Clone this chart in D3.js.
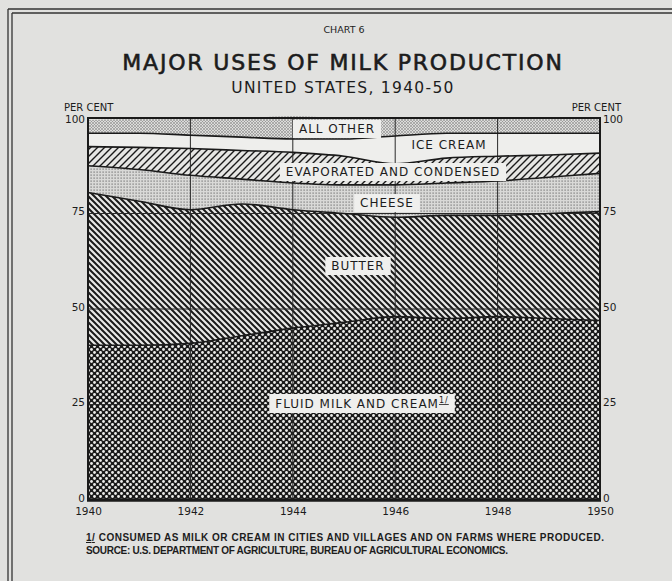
<!DOCTYPE html>
<html lang="en">
<head>
<meta charset="UTF-8">
<script src="https://d3js.org/d3.v7.min.js"></script>
<title>milk uses</title>
<style>
  body { margin: 0; background: #e1e1df; }
  text { font-family: "DejaVu Sans", sans-serif; fill: #1c1c1c; }
</style>
</head>
<body>
<script>
  // per cent of total milk production, by use
  let years = [1940, 1941, 1942, 1943, 1944, 1945, 1946, 1947, 1948, 1949, 1950]
  let fluid = [40.5, 40.5, 41, 43, 45, 46.5, 48, 47.5, 48, 47.5, 47]
  let butter = [40, 37.7, 35, 34.5, 31, 28.5, 26, 27, 26.5, 27.5, 28.5]
  let cheese = [7, 8.3, 9, 6.5, 7, 7.5, 8.5, 8.5, 9, 9.5, 10]
  let evaporated = [5, 5.8, 7, 7.5, 8, 7.5, 5.5, 6.5, 6.5, 5.8, 5.3]
  let iceCream = [3.5, 3.7, 3.5, 3.5, 3.5, 4.5, 7.3, 6.5, 6, 5.7, 5.2]
  let allOther = [3.5, 3.8, 4.5, 5, 6, 5.5, 4.7, 4, 4, 4, 3.9]
  let yTicks = [0, 25, 50, 75, 100]
  let xTicks = [1940, 1942, 1944, 1946, 1948, 1950]

  let keys = ['fluid', 'butter', 'cheese', 'evaporated', 'iceCream', 'allOther']
  let series = { fluid, butter, cheese, evaporated, iceCream, allOther }
  let rows = years.map((y, i) => {
    let r = { year: y }
    keys.forEach(k => { r[k] = series[k][i] })
    return r
  })

  let width = 672
  let height = 581
  let margin = { left: 88, right: 72, top: 118, bottom: 81 }

  let svg = d3.select('body').append('svg')
    .attr('width', width)
    .attr('height', height)

  svg.append('rect').attr('width', width).attr('height', height).attr('fill', '#e1e1df')

  // double frame lines, top and left
  ;[9, 13].forEach(v => {
    svg.append('line').attr('x1', v - 1).attr('x2', width).attr('y1', v).attr('y2', v)
      .attr('stroke', '#333').attr('stroke-width', 1.3)
    svg.append('line').attr('x1', v - 1).attr('x2', v - 1).attr('y1', v).attr('y2', height)
      .attr('stroke', '#333').attr('stroke-width', 1.3)
  })

  let defs = svg.append('defs')

  // patterns for the bands
  function linePattern(id, size, dir, sw, bg) {
    let p = defs.append('pattern').attr('id', id).attr('patternUnits', 'userSpaceOnUse')
      .attr('width', size).attr('height', size)
    p.append('rect').attr('width', size).attr('height', size).attr('fill', bg)
    let d = dir > 0
      ? `M0,${size} L${size},0 M${-size / 2},${size / 2} L${size / 2},${-size / 2} M${size / 2},${size * 1.5} L${size * 1.5},${size / 2}`
      : `M0,0 L${size},${size} M${-size / 2},${size / 2} L${size / 2},${size * 1.5} M${size / 2},${-size / 2} L${size * 1.5},${size / 2}`
    p.append('path').attr('d', d).attr('stroke', '#1a1a1a').attr('stroke-width', sw)
  }
  linePattern('p-butter', 6, -1, 2, '#e8e8e6')
  linePattern('p-evap', 7, 1, 1.4, '#e6e6e4')

  let pc = defs.append('pattern').attr('id', 'p-cheese').attr('patternUnits', 'userSpaceOnUse')
    .attr('width', 3).attr('height', 3)
  pc.append('rect').attr('width', 3).attr('height', 3).attr('fill', '#d9d9d7')
  pc.append('rect').attr('x', 0.5).attr('y', 0.5).attr('width', 1.2).attr('height', 1.2).attr('fill', '#707070')

  let po = defs.append('pattern').attr('id', 'p-other').attr('patternUnits', 'userSpaceOnUse')
    .attr('width', 3).attr('height', 3)
  po.append('rect').attr('width', 3).attr('height', 3).attr('fill', '#dcdcda')
  po.append('path').attr('d', 'M0,0 L3,3 M0,3 L3,0').attr('stroke', '#8a8a8a').attr('stroke-width', 0.6)

  let pf = defs.append('pattern').attr('id', 'p-fluid').attr('patternUnits', 'userSpaceOnUse')
    .attr('width', 6).attr('height', 6)
  pf.append('rect').attr('width', 6).attr('height', 6).attr('fill', '#1a1a1a')
  pf.append('circle').attr('cx', 1.5).attr('cy', 1.5).attr('r', 1.4).attr('fill', '#ececea')
  pf.append('circle').attr('cx', 4.5).attr('cy', 4.5).attr('r', 1.4).attr('fill', '#ececea')

  let fills = {
    fluid: 'url(#p-fluid)', butter: 'url(#p-butter)', cheese: 'url(#p-cheese)',
    evaporated: 'url(#p-evap)', iceCream: '#eeeeec', allOther: 'url(#p-other)'
  }

  let x = d3.scaleLinear().domain([1940, 1950]).range([margin.left, width - margin.right])
  let y = d3.scaleLinear().domain([0, 100]).range([height - margin.bottom, margin.top])

  let stack = d3.stack().keys(keys)(rows)

  let area = d3.area()
    .x(d => x(d.data.year))
    .y0(d => y(d[0]))
    .y1(d => y(d[1]))
    .curve(d3.curveMonotoneX)

  let line = d3.line()
    .x(d => x(d.data.year))
    .y(d => y(d[1]))
    .curve(d3.curveMonotoneX)

  let plot = svg.append('g')

  plot.selectAll('path.band')
    .data(stack)
    .enter()
    .append('path')
    .attr('class', 'band')
    .attr('d', area)
    .attr('fill', d => fills[d.key])

  // grid lines
  plot.selectAll('line.vg')
    .data(xTicks.slice(1, -1))
    .enter()
    .append('line')
    .attr('x1', d => x(d)).attr('x2', d => x(d))
    .attr('y1', y(0)).attr('y2', y(100))
    .attr('stroke', '#2a2a2a').attr('stroke-width', 1)

  plot.selectAll('line.hg')
    .data([25, 50, 75])
    .enter()
    .append('line')
    .attr('x1', x(1940)).attr('x2', x(1950))
    .attr('y1', d => y(d)).attr('y2', d => y(d))
    .attr('stroke', '#2a2a2a').attr('stroke-width', 1)

  // band boundaries
  plot.selectAll('path.edge')
    .data(stack.slice(0, -1))
    .enter()
    .append('path')
    .attr('d', line)
    .attr('fill', 'none')
    .attr('stroke', '#1a1a1a')
    .attr('stroke-width', 1.6)

  // frame
  plot.append('rect')
    .attr('x', x(1940)).attr('y', y(100))
    .attr('width', x(1950) - x(1940)).attr('height', y(0) - y(100))
    .attr('fill', 'none').attr('stroke', '#1a1a1a').attr('stroke-width', 2)
  plot.append('line')
    .attr('x1', x(1940) - 1).attr('x2', x(1950) + 1).attr('y1', y(0)).attr('y2', y(0))
    .attr('stroke', '#1a1a1a').attr('stroke-width', 3.5)

  // axes
  let left = svg.append('g').attr('transform', `translate(${x(1940)},-2)`)
    .call(d3.axisLeft(y).tickValues(yTicks).tickSize(0).tickPadding(3))
  let right = svg.append('g').attr('transform', `translate(${x(1950)},-2)`)
    .call(d3.axisRight(y).tickValues(yTicks).tickSize(0).tickPadding(3))
  let bottom = svg.append('g').attr('transform', `translate(0,${y(0)})`)
    .call(d3.axisBottom(x).tickValues(xTicks).tickFormat(d3.format('d')).tickSize(0).tickPadding(8))
  ;[left, right, bottom].forEach(g => {
    g.select('.domain').remove()
    g.selectAll('text').style('font-family', '"DejaVu Sans", sans-serif')
      .style('font-size', '10.5px').attr('fill', '#1c1c1c')
  })
  // top labels sit a little lower, clear of PER CENT
  left.selectAll('.tick').filter(d => d === 100).select('text').attr('dy', '0.6em')
  right.selectAll('.tick').filter(d => d === 100).select('text').attr('dy', '0.6em')

  svg.append('text').attr('x', 64).attr('y', y(100) - 7).text('PER CENT').style('font-size', '10px')
  svg.append('text').attr('x', 621).attr('y', y(100) - 7).attr('text-anchor', 'end')
    .text('PER CENT').style('font-size', '10px')

  // titles
  let cx = (x(1940) + x(1950)) / 2
  svg.append('text').attr('x', cx).attr('y', 33).attr('text-anchor', 'middle')
    .text('CHART 6').style('font-size', '9.5px')
  svg.append('text').attr('x', cx - 1).attr('y', 70).attr('text-anchor', 'middle')
    .text('MAJOR USES OF MILK PRODUCTION').style('font-size', '22px')
    .style('letter-spacing', '1.8px').attr('stroke', '#1c1c1c').attr('stroke-width', 0.6)
  svg.append('text').attr('x', cx - 1).attr('y', 93).attr('text-anchor', 'middle')
    .text('UNITED STATES, 1940-50').style('font-size', '15.5px').style('letter-spacing', '1.3px')

  // band labels with white boxes
  let labels = [
    { t: 'ALL OTHER', x: 337, y: 133, box: true },
    { t: 'ICE CREAM', x: 449, y: 149, box: false },
    { t: 'EVAPORATED AND CONDENSED', x: 393, y: 176, box: true },
    { t: 'CHEESE', x: 387, y: 207, box: true },
    { t: 'BUTTER', x: 358, y: 270, box: true },
    { t: 'FLUID MILK AND CREAM', x: 362, y: 408, box: true, note: true }
  ]
  labels.forEach(l => {
    let g = svg.append('g')
    let txt = g.append('text').attr('x', l.x).attr('y', l.y).attr('text-anchor', 'middle')
      .style('font-size', '12px').style('letter-spacing', '1px').text(l.t)
    if (l.note) {
      txt.append('tspan').attr('dy', -5).style('font-size', '8px')
        .style('text-decoration', 'underline').text('1/')
    }
    if (l.box) {
      let b = txt.node().getBBox()
      g.insert('rect', 'text').attr('x', b.x - 6).attr('y', b.y - 2)
        .attr('width', b.width + 12).attr('height', b.height + 4).attr('fill', '#efefed')
    }
  })

  // footnotes
  let foot = svg.append('text').attr('x', 86).attr('y', 541)
    .style('font-family', '"Liberation Sans Narrow", "Liberation Sans", sans-serif')
    .style('font-size', '10px').style('font-weight', 'bold').attr('textLength', 518)
  foot.append('tspan').style('text-decoration', 'underline').text('1/')
  foot.append('tspan').text(' CONSUMED AS MILK OR CREAM IN CITIES AND VILLAGES AND ON FARMS WHERE PRODUCED.')
  svg.append('text').attr('x', 86).attr('y', 554)
    .style('font-family', '"Liberation Sans Narrow", "Liberation Sans", sans-serif')
    .style('font-size', '10px').style('font-weight', 'bold').attr('textLength', 422)
    .text('SOURCE: U.S. DEPARTMENT OF AGRICULTURE, BUREAU OF AGRICULTURAL ECONOMICS.')
</script>
</body>
</html>
